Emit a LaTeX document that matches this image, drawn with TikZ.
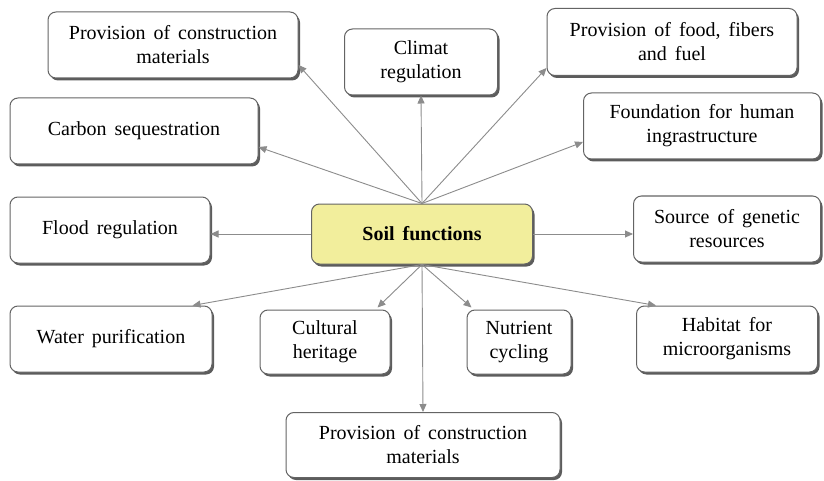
\documentclass[tikz,border=0pt]{standalone}
\usepackage{fontspec}
\newfontfamily\tnr{LiberationSerif}[Extension=.ttf, UprightFont=*-Regular, BoldFont=*-Bold]
\usetikzlibrary{shadows,calc,arrows.meta}
\definecolor{soilfill}{RGB}{242,238,156}
\definecolor{arrowgray}{RGB}{140,140,140}
\definecolor{boxborder}{RGB}{100,100,100}
\newcommand{\myboxfont}{\tnr\fontsize{20}{24}\selectfont\spaceskip=0.4em plus 0.1em\relax}
\begin{document}
\begin{tikzpicture}[x=1pt,y=1pt,
  fbox/.style={draw=boxborder, line width=1pt, rounded corners=8pt, fill=white,
    align=center, inner sep=2pt, font=\myboxfont,
    drop shadow={shadow xshift=2pt, shadow yshift=-2.5pt, fill=black!75, opacity=0.85}},
  conn/.style={draw=arrowgray, line width=0.9pt, -{Triangle[length=8pt,width=7pt]}}
]
\useasboundingbox (0,0) rectangle (824,480);
\fill[white] (0,0) rectangle (824,480);

\node[fbox, minimum width=250pt, minimum height=66pt] (tl) at (173,435) {Provision of construction\\materials};
\node[fbox, minimum width=153pt, minimum height=66pt] (clim) at (421,418) {Climat\\regulation};
\node[fbox, minimum width=250pt, minimum height=67pt] (food) at (672,438) {Provision of food, fibers\\and fuel};
\node[fbox, minimum width=248pt, minimum height=66pt] (carb) at (134,349) {Carbon sequestration};
\node[fbox, minimum width=237pt, minimum height=66pt] (found) at (702,354) {Foundation for human\\ingrastructure};
\node[fbox, minimum width=200pt, minimum height=66pt] (flood) at (110,250) {Flood regulation};
\node[fbox, minimum width=221pt, minimum height=60pt, fill=soilfill, font=\myboxfont\bfseries] (soil) at (422,246) {Soil functions};
\node[fbox, minimum width=187pt, minimum height=66pt] (source) at (727,251) {Source of genetic\\resources};
\node[fbox, minimum width=202pt, minimum height=66pt] (water) at (111,141) {Water purification};
\node[fbox, minimum width=130pt, minimum height=64pt] (cult) at (325,138) {Cultural\\heritage};
\node[fbox, minimum width=104pt, minimum height=64pt] (nutr) at (519,138) {Nutrient\\cycling};
\node[fbox, minimum width=181pt, minimum height=66pt] (hab) at (727,141) {Habitat for\\microorganisms};
\node[fbox, minimum width=274pt, minimum height=65pt] (bot) at (423,35) {Provision of construction\\materials};

\draw[conn] (soil.north) -- ($(tl.east)+(0,-20)$);
\draw[conn] (soil.north) -- ($(carb.east)+(0,-16)$);
\draw[conn] (soil.north) -- (clim.south);
\draw[conn] (soil.north) -- ($(food.south west)+(0,8)$);
\draw[conn] (soil.north) -- ($(found.west)+(0,-16)$);
\draw[conn] (soil.west) -- (soil.west -| flood.east);
\draw[conn] (soil.east) -- (soil.east -| source.west);
\draw[conn] (soil.south) -- ($(water.north east)+(-20,0)$);
\draw[conn] (soil.south) -- ($(cult.north east)+(-13,2)$);
\draw[conn] (soil.south) -- ($(nutr.north west)+(5,2)$);
\draw[conn] (soil.south) -- ($(hab.north west)+(20,0)$);
\draw[conn] (soil.south) -- (bot.north);
\end{tikzpicture}
\end{document}
